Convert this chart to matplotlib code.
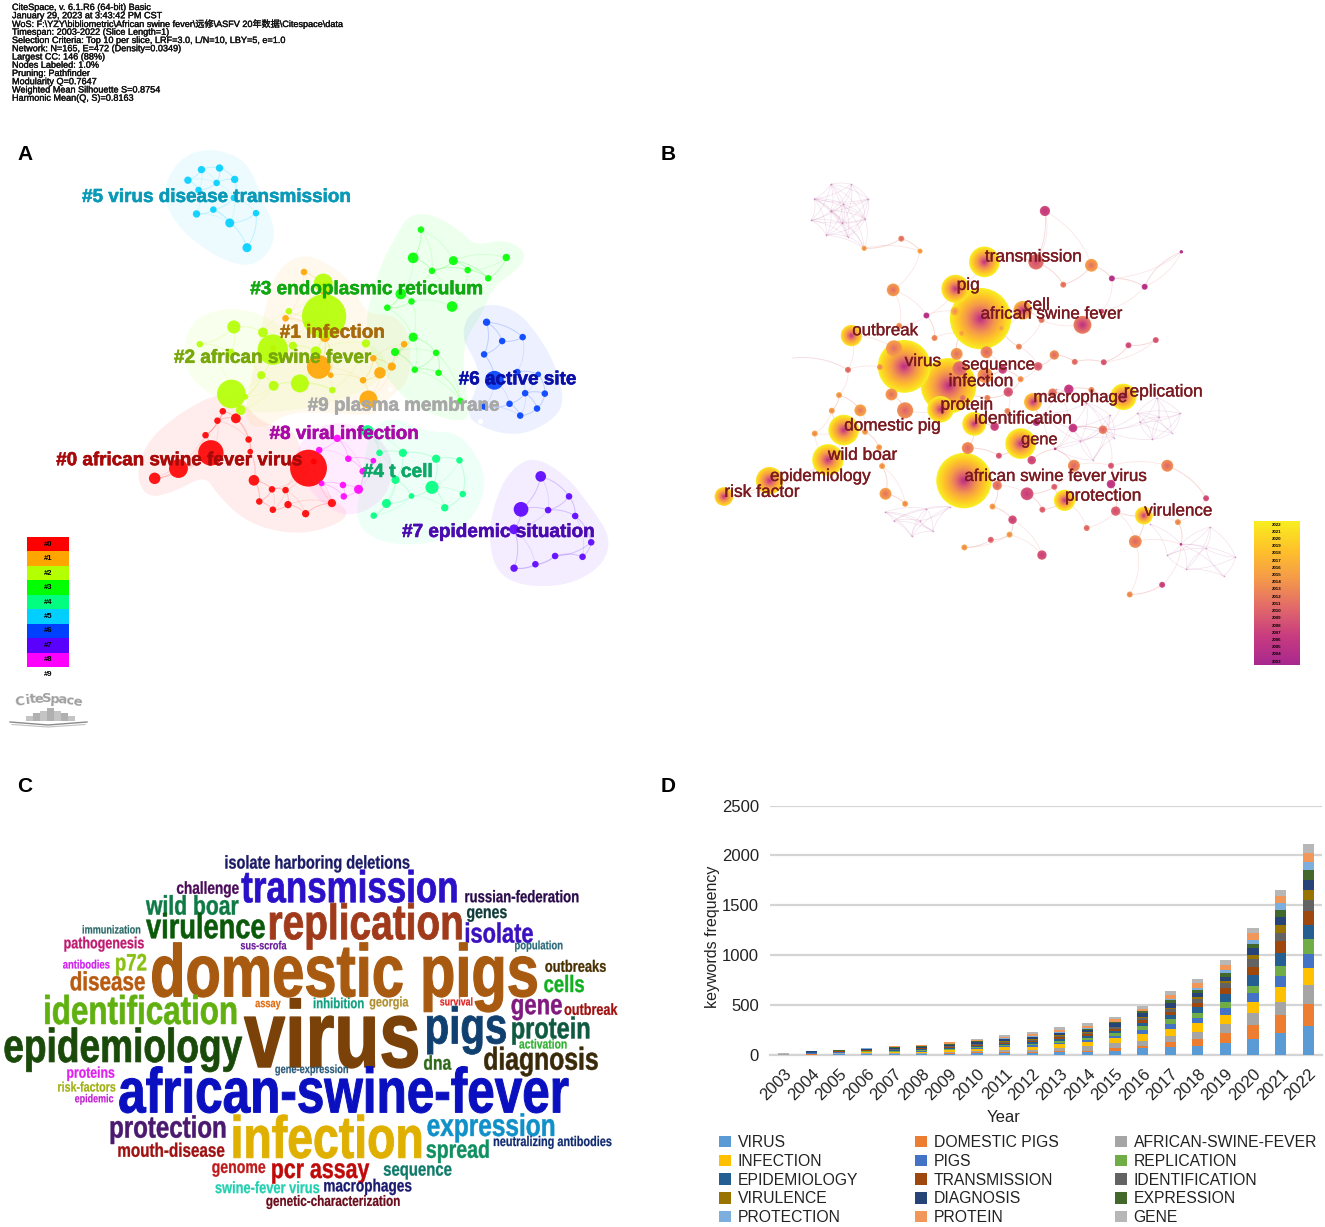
import numpy as np
import matplotlib
matplotlib.use("Agg")
import matplotlib.pyplot as plt
import matplotlib.patheffects as pe
from matplotlib.collections import LineCollection
from matplotlib.colors import LinearSegmentedColormap
from matplotlib.patches import Polygon, Rectangle
from matplotlib.transforms import Affine2D

W, H = 1325, 1227
SANS = ["Liberation Sans", "DejaVu Sans"]
NARROW = ["Liberation Sans Narrow", "Liberation Sans"]

# ---------- header ----------
header_lines = [
    "CiteSpace, v. 6.1.R6 (64-bit) Basic",
    "January 29, 2023 at 3:43:42 PM CST",
    "WoS: F:\\YZY\\bibliometric\\African swine fever\\远修\\ASFV 20年数据\\Citespace\\data",
    "Timespan: 2003-2022 (Slice Length=1)",
    "Selection Criteria: Top 10 per slice, LRF=3.0, L/N=10, LBY=5, e=1.0",
    "Network: N=165, E=472 (Density=0.0349)",
    "Largest CC: 146 (88%)",
    "Nodes Labeled: 1.0%",
    "Pruning: Pathfinder",
    "Modularity Q=0.7647",
    "Weighted Mean Silhouette S=0.8754",
    "Harmonic Mean(Q, S)=0.8163",
]

# ---------- panel A: cluster map ----------
cluster_colors = ["#ff0000", "#ffa500", "#b4ff00", "#00ff00", "#00ff80",
                  "#00cfff", "#0040ff", "#5a00ff", "#ff00ff"]
legend_ids = ["#0", "#1", "#2", "#3", "#4", "#5", "#6", "#7", "#8", "#9"]

hull_0 = [(330, 880), (360, 790), (440, 720), (530, 670), (590, 690), (640, 750), (720, 760), (740, 850),
          (800, 930), (860, 980), (790, 1020), (700, 1030), (600, 1000), (530, 930), (500, 880), (430, 920), (360, 940)]
hull_1 = [(650, 430), (680, 350), (740, 315), (800, 340), (860, 390), (890, 470), (960, 470), (1000, 520),
          (1000, 640), (950, 680), (920, 730), (800, 720), (700, 720), (640, 765), (590, 740), (620, 600)]
hull_2 = [(445, 560), (470, 480), (560, 450), (640, 470), (700, 510), (800, 520), (900, 540), (950, 590),
          (920, 650), (800, 700), (680, 720), (600, 720), (520, 680), (460, 630)]
hull_3 = [(890, 480), (925, 350), (965, 270), (1000, 210), (1070, 220), (1130, 265), (1160, 295), (1230, 278),
          (1283, 310), (1270, 350), (1200, 400), (1180, 460), (1130, 540), (1130, 640), (1150, 740), (1090, 740),
          (1000, 700), (950, 640), (900, 570)]
hull_4 = [(900, 760), (960, 730), (1040, 770), (1120, 770), (1180, 860), (1180, 940), (1120, 1030), (1020, 1060),
          (920, 1050), (865, 1000), (880, 900)]
hull_5 = [(400, 140), (440, 70), (510, 45), (590, 70), (625, 130), (640, 180), (672, 250), (660, 310), (610, 350),
          (540, 330), (480, 290), (430, 240), (405, 190)]
hull_6 = [(1125, 530), (1140, 470), (1190, 440), (1260, 460), (1310, 520), (1350, 590), (1375, 680), (1360, 730),
          (1280, 778), (1200, 770), (1130, 730), (1170, 640), (1160, 590)]
hull_7 = [(1190, 1040), (1205, 950), (1240, 870), (1300, 830), (1380, 880), (1440, 960), (1490, 1040), (1470, 1110),
          (1390, 1160), (1280, 1165), (1210, 1130)]
hull_8 = [(720, 800), (800, 740), (900, 760), (960, 830), (950, 920), (900, 970), (840, 985), (780, 950), (730, 880)]
hulls = [hull_0, hull_1, hull_2, hull_3, hull_4, hull_5, hull_6, hull_7, hull_8]

# x, y, radius
nodes_0 = [(543, 717, 8), (530, 741, 8), (575, 735, 12), (501, 778, 8), (606, 789, 8), (514, 823, 31), (610, 820, 7),
           (435, 863, 23), (377, 888, 14), (752, 862, 45), (619, 893, 13), (663, 916, 8), (696, 918, 8), (632, 947, 8),
           (702, 955, 9), (665, 968, 8), (745, 978, 9), (809, 951, 10), (765, 845, 7)]
nodes_1 = [(741, 362, 8), (793, 405, 16), (696, 480, 8), (748, 494, 7), (792, 528, 12), (666, 556, 7), (777, 604, 29),
           (910, 582, 8), (955, 603, 10), (985, 546, 8), (926, 619, 14), (806, 625, 7), (885, 638, 8), (898, 687, 22)]
nodes_2 = [(790, 475, 54), (788, 390, 23), (570, 502, 16), (641, 516, 12), (704, 462, 8), (487, 546, 8), (665, 560, 37),
           (714, 550, 10), (770, 565, 13), (892, 544, 10), (562, 568, 10), (637, 625, 10), (667, 652, 12), (731, 646, 22),
           (810, 663, 8), (564, 673, 35), (587, 714, 12), (598, 680, 7)]
nodes_3 = [(1026, 254, 8), (1007, 326, 13), (1105, 333, 11), (1234, 325, 9), (1053, 359, 8), (1140, 357, 8), (1190, 378, 8),
           (977, 418, 13), (1003, 437, 8), (944, 453, 8), (1102, 450, 13), (1007, 528, 11), (963, 566, 10), (1063, 568, 8),
           (1011, 611, 8), (1069, 619, 8), (1122, 691, 8)]
nodes_4 = [(896, 768, 15), (925, 823, 8), (982, 823, 10), (1063, 838, 10), (1120, 842, 8), (964, 892, 10), (1053, 911, 16),
           (1128, 928, 8), (1003, 933, 7), (1084, 963, 9), (942, 952, 11), (911, 983, 8)]
nodes_5 = [(491, 101, 9), (535, 97, 9), (458, 128, 9), (528, 135, 8), (572, 126, 9), (484, 153, 8), (570, 173, 8),
           (520, 203, 8), (479, 214, 9), (624, 212, 8), (560, 237, 11), (602, 300, 11)]
nodes_6 = [(1186, 490, 9), (1274, 528, 8), (1224, 538, 8), (1180, 572, 8), (1261, 617, 8), (1312, 623, 7), (1205, 638, 23),
           (1280, 671, 8), (1328, 672, 8), (1242, 698, 8), (1180, 705, 8), (1309, 710, 8), (1268, 728, 8)]
nodes_7 = [(1318, 883, 13), (1387, 934, 8), (1270, 967, 18), (1336, 969, 8), (1402, 984, 8), (1253, 1018, 12),
           (1441, 1051, 8), (1353, 1086, 8), (1420, 1088, 8), (1305, 1107, 8), (1253, 1117, 9)]
nodes_8 = [(822, 786, 9), (778, 816, 8), (849, 838, 8), (910, 843, 7), (884, 870, 8), (784, 901, 7), (836, 905, 8),
           (874, 916, 11), (838, 934, 8)]
cluster_nodes = [nodes_0, nodes_1, nodes_2, nodes_3, nodes_4, nodes_5, nodes_6, nodes_7, nodes_8]

# label, left, right, y, colour
labels_a = [
    ("#5 virus disease transmission", 200, 857, 172, "#0a9ab8"),
    ("#3 endoplasmic reticulum", 610, 1178, 407, "#10a810"),
    ("#1 infection", 682, 938, 518, "#a86a0c"),
    ("#2 african swine fever", 424, 905, 582, "#78a80a"),
    ("#6 active site", 1118, 1405, 637, "#0a10a8"),
    ("#9 plasma membrane", 750, 1218, 704, "#a8a8a8"),
    ("#8 viral infection", 657, 1021, 776, "#a80aa8"),
    ("#0 african swine fever virus", 137, 738, 843, "#a80a0a"),
    ("#4 t cell", 884, 1055, 873, "#0ca868"),
    ("#7 epidemic situation", 980, 1450, 1026, "#4a0ab0"),
]

# ---------- panel B: timeline map ----------
# x, y, radius, newest year position on the colour scale (0 = 2003, 1 = 2022)
big_nodes_b = [(761, 352, 36, 1.0), (693, 430, 33, .97), (752, 516, 72, 1.0), (573, 654, 62, 1.0), (677, 710, 65, .98),
               (658, 778, 31, 1.0), (449, 565, 25, .93), (431, 838, 36, 1.0), (394, 924, 37, 1.0), (257, 984, 32, .93),
               (150, 1030, 22, .9), (713, 984, 65, 1.0), (846, 877, 36, 1.0), (737, 820, 28, 1.0), (1087, 742, 31, 1.0),
               (949, 1041, 25, 1.0), (1135, 1085, 21, .98), (851, 492, 22, .72), (875, 757, 21, .78)]
small_nodes_b = [(903, 205, 12, .25), (1223, 323, 4, .1), (882, 352, 18, .42), (1012, 362, 15, .62), (1060, 400, 7, .1),
                 (1137, 424, 7, .1), (946, 418, 7, .5), (566, 285, 7, .5), (479, 313, 6, .65), (610, 321, 6, .68),
                 (547, 433, 15, .6), (625, 507, 7, .1), (991, 534, 21, .48), (1036, 495, 6, .3), (895, 520, 7, .5),
                 (1163, 578, 7, .35), (1099, 593, 7, .3), (561, 537, 7, .6), (644, 572, 7, .55), (842, 597, 7, .55),
                 (549, 602, 19, .62), (696, 618, 14, .6), (766, 613, 14, .55), (925, 621, 11, .55), (973, 641, 7, .45),
                 (1041, 642, 7, .35), (441, 664, 7, .45), (516, 656, 7, .65), (887, 654, 10, .4), (804, 663, 10, .25),
                 (703, 660, 17, .45), (763, 680, 18, .6), (846, 691, 7, .6), (959, 720, 11, .2), (1012, 722, 7, .55),
                 (817, 728, 11, .35), (921, 730, 10, .5), (420, 737, 7, .65), (543, 735, 14, .6), (710, 745, 7, .5),
                 (768, 745, 7, .55), (403, 782, 7, .65), (470, 781, 14, .65), (575, 781, 19, .55), (815, 783, 7, .55),
                 (481, 843, 7, .65), (785, 828, 10, .25), (883, 815, 9, .15), (969, 832, 10, .2), (1039, 837, 10, .5),
                 (363, 848, 7, .65), (514, 888, 7, .65), (722, 890, 14, .55), (795, 912, 7, .35), (872, 925, 10, .3),
                 (927, 892, 3, .2), (521, 942, 7, .65), (971, 941, 14, .55), (1058, 941, 7, .35), (1190, 941, 14, .55),
                 (791, 998, 11, .5), (925, 1002, 7, .4), (1058, 994, 10, .18), (861, 1022, 15, .3), (529, 1022, 14, .62),
                 (1281, 1035, 7, .3), (575, 1051, 7, .65), (780, 1059, 7, .65), (897, 1068, 7, .4), (1069, 1072, 11, .38),
                 (827, 1097, 10, .3), (1215, 1104, 7, .6), (1001, 1121, 7, .45), (1115, 1160, 15, .55), (820, 1140, 7, .65),
                 (776, 1155, 7, .4), (714, 1177, 7, .65), (896, 1199, 11, .3), (1222, 1168, 3, .2), (1178, 1285, 7, .25),
                 (1102, 1313, 7, .6), (692, 495, 10, .75), (800, 543, 7, .75), (708, 558, 7, .75)]

mesh_top = [(400, 128), (449, 128), (488, 170), (362, 170), (430, 185), (400, 205), (481, 228), (355, 232), (428, 240),
            (390, 275), (440, 280), (479, 313)]
mesh_right = [(1120, 790), (1165, 745), (1220, 790), (1200, 845), (1155, 865), (1125, 815), (1170, 800), (1040, 837)]
mesh_mid = [(930, 720), (1000, 760), (1055, 795), (960, 830), (1040, 837), (1015, 925), (927, 892), (985, 870),
            (1065, 860), (900, 790)]
mesh_bottom = [(528, 1075), (548, 1100), (590, 1145), (625, 1065), (640, 1130), (680, 1060), (610, 1100)]
mesh_corner = [(1150, 1110), (1222, 1168), (1290, 1118), (1350, 1205), (1235, 1240), (1322, 1260), (1190, 1200), (1280, 1180)]
meshes_b = [mesh_top, mesh_right, mesh_mid, mesh_bottom, mesh_corner]

labels_b = [
    ("transmission", 762, 990, 338), ("pig", 696, 750, 420), ("cell", 853, 915, 478),
    ("african swine fever", 752, 1087, 503), ("outbreak", 451, 606, 551), ("virus", 574, 660, 640),
    ("sequence", 708, 880, 650), ("infection", 677, 830, 698), ("replication", 1088, 1274, 728),
    ("macrophage", 876, 1097, 744), ("protein", 658, 782, 766), ("identification", 737, 968, 806),
    ("domestic pig", 432, 659, 826), ("gene", 847, 933, 866), ("wild boar", 394, 557, 911),
    ("epidemiology", 258, 495, 972), ("african swine fever virus", 714, 1145, 972), ("risk factor", 151, 329, 1018),
    ("protection", 950, 1130, 1029), ("virulence", 1136, 1297, 1072),
]
scale_years = [str(y) for y in range(2022, 2002, -1)]
scale_colors = ["#a8288e", "#c83c80", "#e26a6a", "#f59a4a", "#ffc22a", "#f9ee20"]

# ---------- panel C: word cloud ----------
# word, left, right, baseline, colour
words = [
    ("isolate harboring deletions", 547, 1000, 85, "#1a1a66"), ("transmission", 588, 1118, 185, "#2a10c8"),
    ("challenge", 430, 583, 160, "#4a0a5a"), ("russian-federation", 1132, 1412, 185, "#2a0a4a"),
    ("wild boar", 356, 582, 222, "#0f7a45"), ("genes", 1137, 1237, 232, "#0f3a3a"),
    ("virulence", 356, 648, 292, "#0a5a0a"), ("replication", 652, 1130, 295, "#a03a1a"),
    ("isolate", 1132, 1300, 305, "#3a10c0"), ("immunization", 200, 343, 278, "#2a6a6a"),
    ("pathogenesis", 155, 352, 322, "#c01a70"), ("sus-scrofa", 586, 698, 325, "#6a1a9a"),
    ("population", 1254, 1372, 325, "#2a6a7a"), ("domestic pigs", 366, 1316, 465, "#a85a10"),
    ("antibodies", 153, 268, 382, "#d020f0"), ("p72", 280, 358, 388, "#8ac010"),
    ("outbreaks", 1328, 1478, 392, "#4a3000"), ("disease", 170, 355, 447, "#b85a10"),
    ("cells", 1325, 1425, 452, "#10b020"), ("identification", 105, 580, 547, "#60b010"),
    ("assay", 622, 684, 497, "#e06a10"), ("inhibition", 763, 888, 500, "#10a080"),
    ("georgia", 900, 996, 495, "#b09030"), ("survival", 1072, 1153, 492, "#e02020"),
    ("gene", 1245, 1372, 518, "#801a80"), ("outbreak", 1375, 1505, 520, "#a01010"),
    ("virus", 595, 1027, 675, "#7a4208"), ("pigs", 1035, 1238, 605, "#0f4070"),
    ("protein", 1245, 1440, 590, "#0f5a40"), ("activation", 1265, 1382, 620, "#30b030"),
    ("epidemiology", 8, 592, 660, "#1a4a0a"), ("diagnosis", 1178, 1460, 683, "#3a2a0a"),
    ("dna", 1032, 1100, 683, "#2f6a1a"), ("gene-expression", 670, 850, 693, "#2a5a7a"),
    ("proteins", 162, 280, 707, "#e020f0"), ("risk-factors", 140, 282, 748, "#a0b010"),
    ("epidemic", 182, 277, 780, "#c020d0"), ("african-swine-fever", 288, 1385, 810, "#0a10c0"),
    ("protection", 266, 552, 885, "#4a1a70"), ("infection", 562, 1032, 945, "#e0b000"),
    ("expression", 1040, 1355, 880, "#1090c8"), ("neutralizing antibodies", 1202, 1492, 910, "#102a70"),
    ("mouth-disease", 286, 548, 942, "#a01010"), ("spread", 1038, 1195, 945, "#109060"),
    ("genome", 516, 648, 990, "#c01a1a"), ("pcr assay", 660, 900, 1005, "#c00a0a"),
    ("sequence", 934, 1102, 998, "#107a6a"), ("swine-fever virus", 524, 780, 1050, "#20d0b0"),
    ("macrophages", 788, 1004, 1045, "#1a1a70"), ("genetic-characterization", 648, 975, 1088, "#6a0a1a"),
]

# ---------- panel D: stacked bars ----------
years = [str(y) for y in range(2003, 2023)]
virus = [2, 5, 6, 8, 8, 10, 12, 18, 25, 20, 30, 30, 45, 67, 83, 93, 123, 160, 220, 290]
domestic_pigs = [1, 2, 3, 3, 4, 5, 6, 8, 8, 10, 15, 15, 22, 26, 50, 67, 94, 140, 177, 223]
african_swine_fever = [5, 3, 8, 6, 8, 10, 15, 14, 15, 25, 30, 45, 50, 50, 57, 70, 93, 117, 136, 184]
infection = [1, 3, 8, 12, 6, 10, 14, 20, 28, 30, 35, 40, 50, 67, 73, 87, 93, 116, 147, 176]
pigs = [1, 3, 2, 2, 4, 6, 6, 10, 10, 12, 15, 22, 25, 40, 44, 50, 70, 87, 107, 144]
replication = [1, 3, 3, 5, 8, 10, 9, 10, 10, 15, 20, 20, 25, 40, 50, 50, 60, 73, 106, 150]
epidemiology = [1, 8, 4, 6, 8, 10, 10, 10, 12, 15, 20, 20, 25, 33, 43, 60, 80, 104, 127, 136]
transmission = [1, 2, 2, 5, 6, 5, 8, 10, 12, 14, 15, 18, 20, 27, 33, 40, 60, 86, 120, 137]
identification = [0, 1, 2, 4, 6, 5, 6, 8, 12, 12, 12, 12, 15, 20, 24, 43, 44, 74, 87, 117]
virulence = [0, 1, 2, 2, 3, 3, 4, 4, 6, 6, 6, 6, 8, 7, 16, 17, 20, 43, 73, 93]
diagnosis = [1, 6, 4, 6, 10, 10, 14, 18, 20, 18, 18, 22, 32, 46, 50, 46, 46, 70, 80, 103]
expression = [0, 1, 3, 6, 5, 6, 6, 6, 5, 6, 8, 10, 10, 14, 27, 27, 40, 43, 70, 97]
protection = [0, 1, 1, 2, 3, 2, 4, 4, 5, 5, 6, 6, 8, 6, 10, 17, 27, 44, 70, 87]
protein = [1, 2, 3, 3, 8, 8, 13, 10, 16, 24, 22, 28, 30, 20, 40, 50, 53, 63, 70, 86]
gene = [5, 4, 4, 5, 8, 5, 8, 10, 16, 18, 28, 26, 20, 30, 37, 40, 47, 53, 60, 90]

series = [virus, domestic_pigs, african_swine_fever, infection, pigs, replication, epidemiology, transmission,
          identification, virulence, diagnosis, expression, protection, protein, gene]
series_names = ["VIRUS", "DOMESTIC PIGS", "AFRICAN-SWINE-FEVER", "INFECTION", "PIGS", "REPLICATION", "EPIDEMIOLOGY",
                "TRANSMISSION", "IDENTIFICATION", "VIRULENCE", "DIAGNOSIS", "EXPRESSION", "PROTECTION", "PROTEIN", "GENE"]
series_colors = ["#5b9bd5", "#ed7d31", "#a5a5a5", "#ffc000", "#4472c4", "#70ad47", "#255e91", "#9e480e", "#636363",
                 "#997300", "#264478", "#43682b", "#7cafdd", "#f1975a", "#b7b7b7"]

logo_bars = [5, 8, 10, 13, 10, 8, 5]
logo_letters = "CiteSpace"
logo_steps = [0, 7.5, 5.5, 6, 8, 8, 7.5, 7.5, 7]


class TallText(pe.AbstractPathEffect):
    # stretches glyphs upwards from the baseline, the wordcloud font is a tall one
    def __init__(self, stretch, linewidth, color):
        super().__init__()
        self.stretch = stretch
        self.linewidth = linewidth
        self.color = color

    def draw_path(self, renderer, gc, tpath, affine, rgbFace=None):
        gc0 = renderer.new_gc()
        gc0.copy_properties(gc)
        gc0.set_linewidth(self.linewidth)
        gc0.set_foreground(self.color)
        renderer.draw_path(gc0, tpath, Affine2D().scale(1, self.stretch) + affine, rgbFace)
        gc0.restore()


def panel_axes(fig, x, y, w, h, xmax, ymax):
    ax = fig.add_axes([x / W, 1 - (y + h) / H, w / W, h / H])
    ax.set_xlim(0, xmax)
    ax.set_ylim(ymax, 0)
    ax.axis("off")
    ax.patch.set_alpha(0)
    return ax


def smooth_hull(points, rounds=3):
    pts = np.array(points, dtype=float)
    for _ in range(rounds):
        nxt = np.roll(pts, -1, axis=0)
        pts = np.column_stack([0.75 * pts + 0.25 * nxt, 0.25 * pts + 0.75 * nxt]).reshape(-1, 2)
    return pts


def arc(p, q, bend=0.18):
    p, q = np.array(p[:2], dtype=float), np.array(q[:2], dtype=float)
    normal = np.array([q[1] - p[1], p[0] - q[0]])
    mid = (p + q) / 2 + bend * normal
    t = np.linspace(0, 1, 14)[:, None]
    return (1 - t) ** 2 * p + 2 * t * (1 - t) * mid + t ** 2 * q


def knn_edges(nodes, k):
    xy = np.array([n[:2] for n in nodes], dtype=float)
    segs = []
    for i in range(len(xy)):
        order = np.argsort(np.hypot(*(xy - xy[i]).T))
        for j in order[1:k + 1]:
            segs.append(arc(xy[i], xy[j], 0.18 if i < j else -0.18))
    return segs


def fit_text(ax, text, left, right, y, renderer, stroke=0.0, tall=0.0, **kw):
    # size the text so it spans left..right in data units
    t = ax.text(left, y, text, fontsize=10, **kw)
    px_per_unit = abs(ax.transData.transform((1, 0))[0] - ax.transData.transform((0, 0))[0])
    width = t.get_window_extent(renderer).width
    size = 10 * (right - left) * px_per_unit / width
    t.set_fontsize(size)
    if tall:
        t.set_path_effects([TallText(tall, size * stroke, kw.get("color"))])
    elif stroke:
        t.set_path_effects([pe.withStroke(linewidth=size * stroke, foreground=kw.get("color"))])
    return t


fig = plt.figure(figsize=(W / 100, H / 100), dpi=100, facecolor="white")
renderer = fig.canvas.get_renderer()

# page level items in pixel coordinates
page = panel_axes(fig, 0, 0, W, H, W, H)
for i, line in enumerate(header_lines):
    page.text(12, 7.5 + i * 8.25, line, fontsize=6.55, va="center", color="#111111",
              family=["Liberation Sans", "Noto Sans CJK SC"],
              path_effects=[pe.withStroke(linewidth=0.25, foreground="#111111")])
for letter, x, y in [("A", 17, 154), ("B", 661, 154), ("C", 17, 786), ("D", 661, 786)]:
    page.text(x, y, letter, fontsize=15, fontweight="bold", va="center", family=SANS, color="black")

# panel A
ax_a = panel_axes(fig, 0, 130, 640, 610, 1560, 1555)
for hull, color in zip(hulls, cluster_colors):
    ax_a.add_patch(Polygon(smooth_hull(hull), closed=True, facecolor=color, alpha=0.07, edgecolor="none"))
for nodes, color in zip(cluster_nodes, cluster_colors):
    ax_a.add_collection(LineCollection(knn_edges(nodes, 3), colors=color, alpha=0.1, linewidths=0.7))
for nodes, color in zip(cluster_nodes, cluster_colors):
    xs, ys, rs = np.array(nodes, dtype=float).T
    order = np.argsort(-rs)
    sizes = (2 * rs[order] / 2.44 * 0.72) ** 2
    ax_a.scatter(xs[order], ys[order], s=sizes, color=color, alpha=0.9, linewidths=0, zorder=3)
ax_a.scatter([950, 1170], [660, 742], s=14, color="white", linewidths=0, zorder=3)
for text, left, right, y, color in labels_a:
    fit_text(ax_a, text, left, right, y, renderer, stroke=0.03, color=color, va="center",
             fontweight="bold", family=SANS, zorder=5)

# cluster colour key
key_top, key_h = 537, 14.45
for i, color in enumerate(cluster_colors):
    page.add_patch(Rectangle((27, key_top + i * key_h), 42, key_h, facecolor=color, edgecolor="none"))
for i, label in enumerate(legend_ids):
    page.text(48, key_top + (i + 0.5) * key_h, label, fontsize=5.5, fontweight="bold", ha="center", va="center",
              family=SANS, color="black", zorder=4)

# CiteSpace logo
letter_x = 20 + np.cumsum(logo_steps)
for i, ch in enumerate(logo_letters):
    offset = (i - 4) / 4
    page.text(letter_x[i], 702 - 3 * (1 - offset ** 2), ch, fontsize=9.5, fontweight="bold", ha="center", va="center",
              rotation=-8 * offset, color="#a0a0a0", family=["DejaVu Sans"])
for i, h in enumerate(logo_bars):
    page.add_patch(Rectangle((26 + i * 7, 721 - h), 7, h, facecolor="#b0b0b0" if i % 2 else "#c4c4c4", edgecolor="none"))
page.plot([10, 48, 87], [722, 725, 722], color="#8a8a8a", lw=1)
page.plot([12, 48, 85], [724.5, 727, 724.5], color="#c0c0c0", lw=0.8)

# panel B
ax_b = panel_axes(fig, 660, 140, 665, 540, 1560, 1560)
year_cmap = LinearSegmentedColormap.from_list("years", scale_colors)
all_b = big_nodes_b + small_nodes_b
ax_b.add_collection(LineCollection(knn_edges(all_b, 2), colors="#f2b8b4", alpha=0.35, linewidths=0.6))
for mesh in meshes_b:
    segs = []
    for i in range(len(mesh)):
        for j in range(i + 1, len(mesh)):
            if np.hypot(mesh[i][0] - mesh[j][0], mesh[i][1] - mesh[j][1]) < 140:
                segs.append(arc(mesh[i], mesh[j], 0.15))
    ax_b.add_collection(LineCollection(segs, colors="#c878b0", alpha=0.22, linewidths=0.5))
    mx, my = np.array(mesh).T
    ax_b.scatter(mx, my, s=1.5, color="#c070a8", alpha=0.6, linewidths=0)
ax_b.add_collection(LineCollection([arc((310, 630), (441, 664), 0.2), arc((1223, 323), (1137, 424), -0.2),
                                    arc((903, 205), (882, 352), 0.12)], colors="#e8b0c0", alpha=0.5, linewidths=0.6))
for x, y, r, top in sorted(all_b, key=lambda n: -n[2]):
    rings = max(3, int(r / 2))
    fracs = np.linspace(1, 1 / rings, rings)
    ring_sizes = (2 * r * fracs / 2.346 * 0.72) ** 2
    low = 0.04 if r >= 20 else top * 0.6
    ring_vals = low + (top - low) * fracs ** 0.75
    ax_b.scatter([x] * rings, [y] * rings, s=ring_sizes, c=year_cmap(ring_vals), alpha=0.95, linewidths=0, zorder=3)
for text, left, right, y in labels_b:
    fit_text(ax_b, text, left, right, y, renderer, stroke=0.02, color="#7a1a20", va="center", family=SANS, zorder=5)

# year scale
gradient = np.linspace(1, 0, 256)[:, None]
page.imshow(gradient, extent=(1254, 1300, 665, 521), cmap=year_cmap, aspect="auto", zorder=2)
page.set_xlim(0, W)
page.set_ylim(H, 0)
for i, label in enumerate(scale_years):
    page.text(1277, 524.5 + i * 7.22, label, fontsize=3.2, fontweight="bold", ha="center", va="center",
              family=SANS, color="black", zorder=3)

# panel C
ax_c = panel_axes(fig, 0, 840, 640, 380, 1560, 1130)
for word, left, right, base, color in words:
    fit_text(ax_c, word, left, right, base, renderer, stroke=0.02, tall=1.28, color=color, va="baseline",
             fontweight="bold", family=NARROW)

# panel D
ax_d = fig.add_axes([770 / W, 1 - 1055 / H, (1322 - 770) / W, (1055 - 805.5) / H])
bottom = np.zeros(len(years))
handles = []
for values, name, color in zip(series, series_names, series_colors):
    bars = ax_d.bar(years, values, 0.4, bottom=bottom, color=color, label=name, zorder=3)
    handles.append(bars)
    bottom += np.array(values)
ax_d.set_xlim(-0.5, 19.5)
ax_d.set_ylim(0, 2500)
ax_d.set_yticks([0, 500, 1000, 1500, 2000, 2500])
ax_d.grid(axis="y", color="#d4d4d4", lw=1.6, zorder=0)
for spine in ["top", "right", "left"]:
    ax_d.spines[spine].set_visible(False)
ax_d.spines["bottom"].set_color("#d4d4d4")
ax_d.spines["bottom"].set_linewidth(1.6)
ax_d.tick_params(axis="both", length=0, labelsize=12, pad=8, labelcolor="#222222")
for label in ax_d.get_xticklabels():
    label.set_rotation(45)
    label.set_ha("right")
    label.set_rotation_mode("anchor")
    label.set_family(SANS)
for label in ax_d.get_yticklabels():
    label.set_family(SANS)
page.text(712, 937, "keywords frequency", rotation=90, fontsize=11.5, ha="center", va="center", family=SANS, color="#222222")
page.text(1004, 1118, "Year", fontsize=12, ha="center", va="center", family=SANS, color="#222222")

# legend is read row by row in the reference, matplotlib fills columns
order = [i + 3 * row for i in range(3) for row in range(5)]
fig.legend([handles[i] for i in order], [series_names[i] for i in order], ncol=3, frameon=False,
           loc="upper left", bbox_to_anchor=(719 / W, 1 - 1135 / H), bbox_transform=fig.transFigure,
           prop={"family": SANS, "size": 11.3}, handlelength=0.75, handleheight=0.75, handletextpad=0.45,
           labelspacing=0.24, columnspacing=3.6, labelcolor="#222222", borderpad=0, borderaxespad=0)

fig.savefig("out.png", dpi=100)
